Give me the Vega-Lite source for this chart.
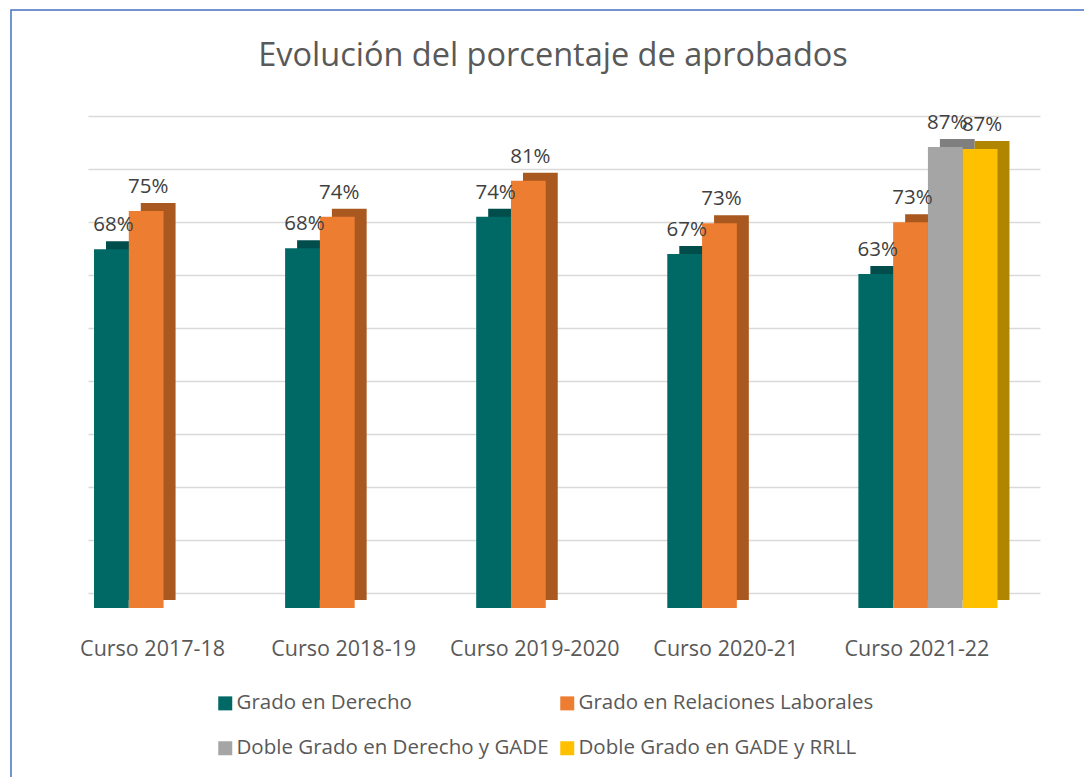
{
  "$schema": "https://vega.github.io/schema/vega-lite/v6.json",
  "autosize": {"type": "none"},
  "padding": {"left": 11, "top": 10, "right": 0, "bottom": 0},
  "width": 1084,
  "height": 790,
  "background": "white",
  "config": {
    "view": {"stroke": "#4472C4", "strokeWidth": 1.5},
    "font": "Open Sans"
  },
  "title": {
    "text": "Evolución del porcentaje de aprobados",
    "frame": "group",
    "anchor": "middle",
    "orient": "top",
    "offset": 0,
    "baseline": "alphabetic",
    "dy": 88,
    "font": "Open Sans",
    "fontSize": 32.5,
    "fontWeight": "normal",
    "color": "#595959"
  },
  "data": {
    "values": [
      {"curso": "Curso 2017-18", "serie": "Grado en Derecho", "valor": 0.677},
      {"curso": "Curso 2017-18", "serie": "Grado en Relaciones Laborales", "valor": 0.749},
      {"curso": "Curso 2018-19", "serie": "Grado en Derecho", "valor": 0.679},
      {"curso": "Curso 2018-19", "serie": "Grado en Relaciones Laborales", "valor": 0.738},
      {"curso": "Curso 2019-2020", "serie": "Grado en Derecho", "valor": 0.738},
      {"curso": "Curso 2019-2020", "serie": "Grado en Relaciones Laborales", "valor": 0.806},
      {"curso": "Curso 2020-21", "serie": "Grado en Derecho", "valor": 0.668},
      {"curso": "Curso 2020-21", "serie": "Grado en Relaciones Laborales", "valor": 0.726},
      {"curso": "Curso 2021-22", "serie": "Grado en Derecho", "valor": 0.63},
      {"curso": "Curso 2021-22", "serie": "Grado en Relaciones Laborales", "valor": 0.728},
      {"curso": "Curso 2021-22", "serie": "Doble Grado en Derecho y GADE", "valor": 0.87},
      {"curso": "Curso 2021-22", "serie": "Doble Grado en GADE y RRLL", "valor": 0.866}
    ]
  },
  "encoding": {
    "x": {
      "field": "curso",
      "type": "nominal",
      "sort": null,
      "scale": {"type": "band", "range": [77, 1029], "paddingInner": 0.272, "paddingOuter": 0.127, "align": 0.124},
      "axis": {
        "orient": "bottom",
        "offset": -145,
        "domain": false,
        "ticks": false,
        "grid": false,
        "labelPadding": 0,
        "labelBaseline": "alphabetic",
        "labelOffset": -11,
        "labelAngle": 0,
        "labelFont": "Open Sans",
        "labelFontSize": 21.5,
        "labelColor": "#595959",
        "title": null
      }
    },
    "y": {
      "field": "valor",
      "type": "quantitative",
      "scale": {"domain": [0, 0.9], "range": [583, 106], "nice": false, "zero": true},
      "axis": {
        "orient": "left",
        "values": [0, 0.1, 0.2, 0.3, 0.4, 0.5, 0.6, 0.7, 0.8, 0.9],
        "grid": true,
        "gridColor": "#D9D9D9",
        "gridWidth": 1.5,
        "domain": false,
        "ticks": false,
        "labels": false,
        "title": null
      }
    }
  },
  "layer": [
    {
      "mark": {"type": "bar", "yOffset": 7, "y2Offset": 7},
      "encoding": {
        "xOffset": {
          "field": "serie",
          "type": "nominal",
          "scale": {
            "domain": ["Grado en Derecho", "Grado en Relaciones Laborales", "Doble Grado en Derecho y GADE", "Doble Grado en GADE y RRLL"],
            "range": [12, 151.1],
            "paddingInner": 0,
            "paddingOuter": 0
          }
        },
        "color": {
          "field": "serie",
          "type": "nominal",
          "scale": {
            "domain": ["Grado en Derecho", "Grado en Relaciones Laborales", "Doble Grado en Derecho y GADE", "Doble Grado en GADE y RRLL"],
            "range": ["#004D4B", "#A9581F", "#7F7F7F", "#B08600"]
          },
          "legend": null
        }
      }
    },
    {
      "mark": {"type": "bar", "yOffset": 15, "y2Offset": 15},
      "encoding": {
        "xOffset": {
          "field": "serie",
          "type": "nominal",
          "scale": {
            "domain": ["Grado en Derecho", "Grado en Relaciones Laborales", "Doble Grado en Derecho y GADE", "Doble Grado en GADE y RRLL"],
            "paddingInner": 0,
            "paddingOuter": 0
          }
        },
        "color": {
          "field": "serie",
          "type": "nominal",
          "scale": {
            "domain": ["Grado en Derecho", "Grado en Relaciones Laborales", "Doble Grado en Derecho y GADE", "Doble Grado en GADE y RRLL"],
            "range": ["#006965", "#ED7D31", "#A5A5A5", "#FFC000"]
          },
          "legend": {
            "orient": "none",
            "legendX": 204,
            "legendY": 683,
            "direction": "horizontal",
            "columns": 2,
            "title": null,
            "padding": 0,
            "symbolType": "square",
            "symbolSize": 196,
            "symbolStrokeWidth": 0,
            "symbolOpacity": 1,
            "labelFont": "Open Sans",
            "labelFontSize": 20.5,
            "labelColor": "#595959",
            "labelLimit": 0,
            "labelOffset": 1,
            "rowPadding": 24,
            "columnPadding": 8
          }
        }
      }
    },
    {
      "mark": {"type": "text", "dy": -3, "dx": 2, "baseline": "alphabetic", "align": "center", "font": "Open Sans", "fontSize": 20.5, "color": "#404040"},
      "encoding": {
        "xOffset": {
          "field": "serie",
          "type": "nominal",
          "scale": {
            "type": "point",
            "domain": ["Grado en Derecho", "Grado en Relaciones Laborales", "Doble Grado en Derecho y GADE", "Doble Grado en GADE y RRLL"],
            "range": [17.4, 121.7],
            "padding": 0
          }
        },
        "text": {"field": "valor", "type": "quantitative", "format": ".0%"}
      }
    }
  ],
  "resolve": {"scale": {"color": "independent", "xOffset": "independent"}}
}
